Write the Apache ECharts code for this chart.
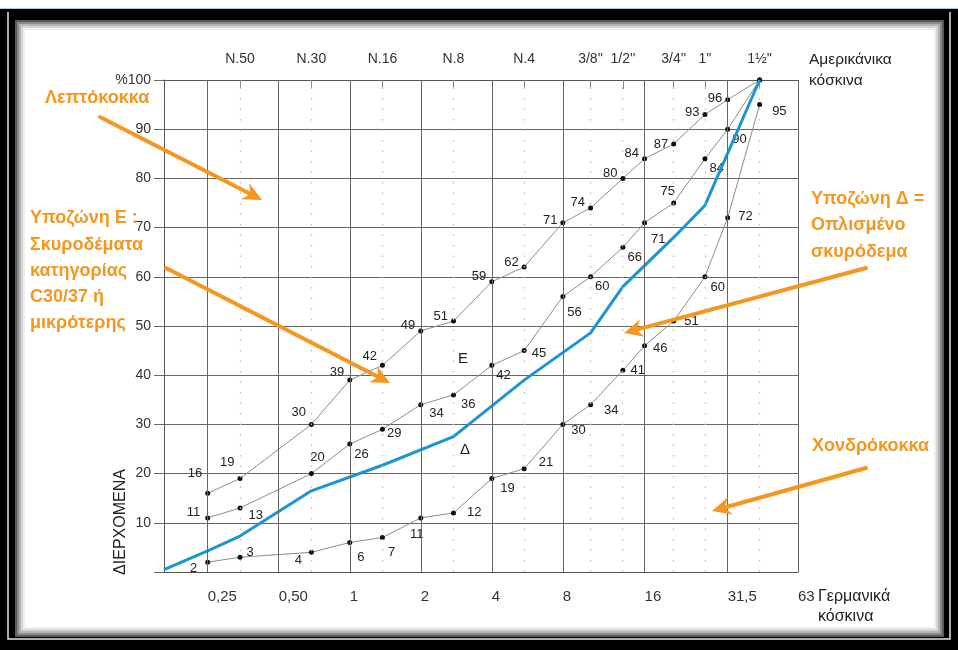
<!DOCTYPE html>
<html><head><meta charset="utf-8">
<script src="https://cdn.jsdelivr.net/npm/echarts@6/dist/echarts.min.js"></script>
<style>html,body{margin:0;padding:0;background:#000}#c{width:958px;height:650px}</style>
</head><body><div id="c"></div><script>
// ---- data ----
const germanLabels = ['0,25','0,50','1','2','4','8','16','31,5','63'];
const germanPos = [1, 2, 3, 4, 5, 6, 7.15, 8.32, 9.31];
const americanLabels = ['N.50','N.30','N.16','N.8','N.4',"3/8''","1/2''","3/4''","1''","1½''"];
const americanPos = [1.455, 2.46, 3.46, 4.46, 5.455, 6.39, 6.845, 7.56, 8.0, 8.77];
const pointSieves = ['0,25','N.50','N.30','1','N.16','2','N.8','4','N.4','8',"3/8''","1/2''",'16',"3/4''","1''",'31,5',"1½''"];
const upperCurve  = [16,19,30,39,42,49,51,59,62,71,74,80,84,87,93,96,100];
const middleCurve = [11,13,20,26,29,34,36,42,45,56,60,66,71,75,84,90,100];
const lowerCurve  = [2,3,4,6,7,11,12,19,21,30,34,41,46,51,60,72,95];
const referenceSieves = ['start','0,25','N.50','N.30','N.16','N.8','N.4',"3/8''","1/2''","3/4''","1''","1½''"];
const referenceCurve  = [0.5,4.3,7.3,16.5,21.7,27.5,39,48.6,58,68,74.5,100];

// ---- styling ----
const X_MIN = 0.385, X_MAX = 9.31;
const FONT = '"Liberation Sans", Arial, sans-serif';
const ORANGE = '#F5961E';
function sieveX(name){
  if (name === 'start') return X_MIN;
  let i = germanLabels.indexOf(name);
  if (i >= 0) return germanPos[i];
  i = americanLabels.indexOf(name);
  return americanPos[i];
}
const labelDefaults = {
  upper:  {position:'left',  distance:3, offset:[0,-5]},
  middle: {position:'right', distance:2, offset:[0,10]},
  lower:  {position:'right', distance:6, offset:[0,6]}
};
const labelOverrides = {
  upper: {0:{offset:[0,-20]},1:{offset:[0,-16]},2:{offset:[0,-12]},3:{offset:[0,-8]},4:{offset:[0,-9]},
          9:{offset:[0,-2]},13:{offset:[0,0]},14:{offset:[0,-2]},15:{offset:[0,-1]},16:{show:false}},
  middle:{0:{position:'left',distance:5,offset:[0,-5]},1:{offset:[4,7]},2:{position:'top',distance:7,offset:[6,0]},
          4:{offset:[0,4]},5:{offset:[4,9]},6:{offset:[3,10]},8:{offset:[3,3]},9:{offset:[0,16]},
          12:{offset:[2,17]},13:{position:'top',distance:3,offset:[-6,0]},16:{show:false}},
  lower: {0:{position:'left',distance:8,offset:[0,6]},1:{offset:[-2,-5]},2:{position:'left',distance:7,offset:[0,8]},
          3:{offset:[-1,15]},4:{offset:[-3,15]},5:{position:'bottom',distance:8,offset:[-4,0]},6:{offset:[5,-1]},
          7:{offset:[0,10]},8:{offset:[6,-6]},10:{offset:[5,6]},11:{offset:[-1,0]},12:{offset:[0,3]},
          13:{offset:[2,0]},14:{offset:[-3,11]},15:{offset:[2,-1]},16:{offset:[4,7]}}
};
function curveSeries(name, values, key){
  return {
    name, type:'line', z:3,
    data: values.map((v,i)=>({value:[sieveX(pointSieves[i]), v],
      label:Object.assign({}, labelDefaults[key], labelOverrides[key][i]||{})})),
    symbol:'circle', symbolSize:5, itemStyle:{color:'#111'},
    lineStyle:{color:'#8c8c8c', width:1},
    label:{show:true, color:'#222', fontSize:13, fontFamily:FONT},
    emphasis:{disabled:true}
  };
}
function lookup(pos, labels){
  return v => { const i = pos.findIndex(p=>Math.abs(p-v)<1e-6); return i>=0 ? labels[i] : ''; };
}
function arrow(x1,y1,x2,y2){
  const a = Math.atan2(y2-y1, x2-x1), L = 19, W = 9, N = 6;
  const ux = Math.cos(a), uy = Math.sin(a), px = -uy, py = ux;
  const bx = x2-ux*L, by = y2-uy*L;
  return [
    {type:'line', z:100, shape:{x1, y1, x2:x2-ux*(L-N), y2:y2-uy*(L-N)}, style:{stroke:ORANGE, lineWidth:4, lineCap:'round'}},
    {type:'polygon', z:100, shape:{points:[[x2,y2],[bx+px*W,by+py*W],[x2-ux*(L-N),y2-uy*(L-N)],[bx-px*W,by-py*W]]}, style:{fill:ORANGE}}
  ];
}
function txt(text,x,y,opt){
  return {type:'text', z:100, x, y, style:Object.assign({text, fontFamily:FONT, fontSize:14, fill:'#222', align:'left', verticalAlign:'middle'}, opt||{})};
}
const orange = {fill:ORANGE, fontSize:18, fontWeight:'bold'};

const frame = [
  {type:'rect', z:-10, shape:{x:0,y:0,width:958,height:8}, style:{fill:'#fff'}},
  {type:'rect', z:-10, shape:{x:0,y:8,width:958,height:1}, style:{fill:'#a9c8e4'}},
  {type:'polyline', z:-10, shape:{points:[[8,12],[8,639],[950,639],[950,12]]}, style:{stroke:'#e6e6e6', lineWidth:1.5, fill:'none'}},
  {type:'rect', z:-10, shape:{x:15,y:20,width:929,height:617}, style:{fill:'#5a5a5a'}},
  {type:'rect', z:-10, shape:{x:17,y:22,width:925,height:613}, style:{fill:'#8a8a8a'}},
  {type:'rect', z:-10, shape:{x:19,y:24,width:921,height:609}, style:{fill:'#b4b4b4'}},
  {type:'rect', z:-10, shape:{x:21,y:26,width:917,height:605}, style:{fill:'#d6d6d6'}},
  {type:'rect', z:-10, shape:{x:23,y:28,width:913,height:601}, style:{fill:'#eeeeee'}},
  {type:'rect', z:-10, shape:{x:25,y:30,width:909,height:597}, style:{fill:'#ffffff'}}
];
const notes = [
  txt('Λεπτόκοκκα',45,98,orange),
  txt('Υποζώνη Ε :',30,218,orange), txt('Σκυροδέματα',30,245,orange), txt('κατηγορίας',30,271,orange),
  txt('C30/37 ή',30,297,orange), txt('μικρότερης',30,323,orange),
  txt('Υποζώνη Δ =',811,199,orange), txt('Οπλισμένο',811,225,orange), txt('σκυρόδεμα',811,252,orange),
  txt('Χονδρόκοκκα',812,446,orange),
  txt('Αμερικάνικα',809,60,{fontSize:15.5}), txt('κόσκινα',809,81,{fontSize:15.5}),
  txt('Γερμανικά',818,597,{fontSize:16}), txt('κόσκινα',818,617,{fontSize:16}),
  txt('Ε',463,359,{align:'center',fontSize:15}), txt('Δ',465,450,{align:'center',fontSize:15}),
  {type:'text', z:100, x:121, y:522, rotation:Math.PI/2, style:{text:'ΔΙΕΡΧΟΜΕΝΑ', fontFamily:FONT, fontSize:16, fill:'#222', align:'center', verticalAlign:'middle'}},
  ...arrow(100,117,262,200), ...arrow(166,268,390,383), ...arrow(866,268,624,333), ...arrow(866,468,712,511)
];

const chart = echarts.init(document.getElementById('c'), null, {renderer:'canvas'});
chart.setOption({
  animation:false,
  backgroundColor:'#000',
  grid:{left:164, right:160, top:80, bottom:78, containLabel:false},
  xAxis:[
    {type:'value', position:'bottom', min:X_MIN, max:X_MAX,
     axisLine:{show:true, onZero:false, lineStyle:{color:'#555'}}, axisTick:{show:false}, splitLine:{show:false},
     axisLabel:{customValues:germanPos, formatter:lookup(germanPos, germanLabels), margin:17, align:'left',
                color:'#333', fontSize:15, fontFamily:FONT}},
    {type:'value', position:'top', min:X_MIN, max:X_MAX,
     axisLine:{show:true, onZero:false, lineStyle:{color:'#555'}},
     axisTick:{show:true, inside:true, length:9, customValues:americanPos, lineStyle:{color:'#888'}},
     splitLine:{show:false},
     axisLabel:{customValues:americanPos, formatter:lookup(americanPos, americanLabels), margin:14,
                color:'#333', fontSize:14, fontFamily:FONT}}
  ],
  yAxis:{type:'value', min:0, max:100, interval:10,
    axisLine:{show:true, lineStyle:{color:'#555'}}, axisTick:{show:true, length:10, lineStyle:{color:'#666'}},
    splitLine:{show:true, lineStyle:{color:'#666', width:1}},
    axisLabel:{margin:13, color:'#333', fontSize:14, fontFamily:FONT,
      formatter:v => v===0 ? '' : (v===100 ? '%100' : String(v))}},
  graphic:{elements:[...frame, ...notes]},
  series:[
    {type:'line', data:[], z:1, silent:true,
     markLine:{silent:true, symbol:'none', label:{show:false}, animation:false,
       data:[...germanPos.map(v=>({xAxis:v, lineStyle:{color:'#666', width:1, type:'solid'}})),
             ...americanPos.map(v=>({xAxis:v, lineStyle:{color:'#bdbdbd', width:1.3, type:[1.5,9]}}))]}},
    curveSeries('upper', upperCurve, 'upper'),
    curveSeries('middle', middleCurve, 'middle'),
    curveSeries('lower', lowerCurve, 'lower'),
    {name:'reference', type:'line', z:4, symbol:'none',
     data:referenceSieves.map((s,i)=>[sieveX(s), referenceCurve[i]]),
     lineStyle:{color:'#1b96d2', width:3}, emphasis:{disabled:true}}
  ]
});
</script></body></html>
